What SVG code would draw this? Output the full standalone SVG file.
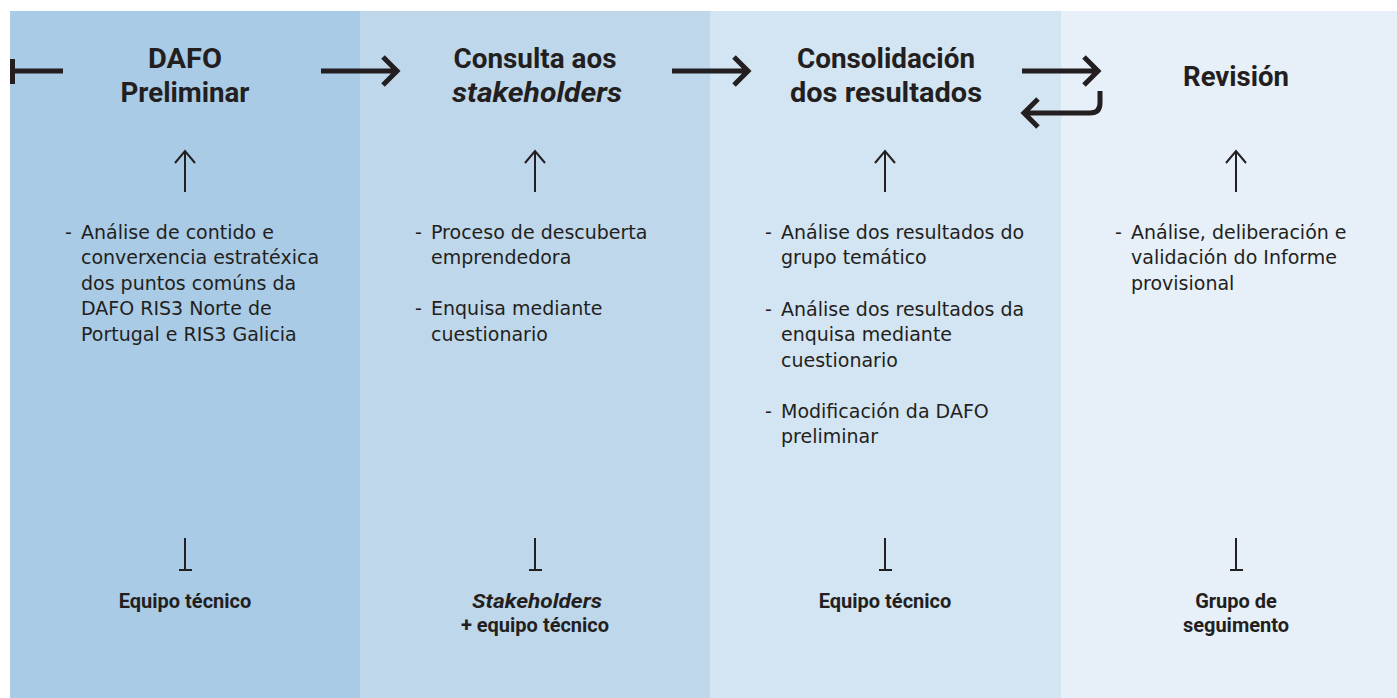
<svg xmlns="http://www.w3.org/2000/svg" width="1397" height="698" viewBox="0 0 1397 698">
<style>
.title{font-family:Roboto,"Liberation Sans",sans-serif;font-weight:700;font-size:28px;fill:#231f20;text-anchor:middle}
.body{font-family:"DejaVu Sans","Liberation Sans",sans-serif;font-size:19px;fill:#231f20}
.who{font-family:Roboto,"Liberation Sans",sans-serif;font-weight:700;font-size:20px;fill:#231f20;text-anchor:middle}
.thick{stroke:#231f20;stroke-width:5;fill:none}
.thin{stroke:#231f20;stroke-width:2;fill:none}
</style>
<rect width="1397" height="698" fill="#ffffff"/>
<g id="col1">
<rect x="10" y="11" width="350" height="687" fill="#a9cbe6"/>
<text class="title" x="185" y="68" textLength="74" lengthAdjust="spacingAndGlyphs">DAFO</text>
<text class="title" x="185" y="102" textLength="129" lengthAdjust="spacingAndGlyphs">Preliminar</text>
<text class="body" x="65" y="239">-</text>
<text class="body" x="81" y="239">Análise de contido e</text>
<text class="body" x="81" y="264">converxencia estratéxica</text>
<text class="body" x="81" y="290">dos puntos comúns da</text>
<text class="body" x="81" y="315">DAFO RIS3 Norte de</text>
<text class="body" x="81" y="341">Portugal e RIS3 Galicia</text>
<text class="who" x="185" y="608">Equipo técnico</text>
</g>
<g id="col2">
<rect x="360" y="11" width="350" height="687" fill="#bfd7eb"/>
<text class="title" x="535" y="68" textLength="163" lengthAdjust="spacingAndGlyphs">Consulta aos</text>
<text class="title" x="537" y="102" font-style="italic" textLength="170" lengthAdjust="spacingAndGlyphs">stakeholders</text>
<text class="body" x="415" y="239">-</text>
<text class="body" x="431" y="239">Proceso de descuberta</text>
<text class="body" x="431" y="264">emprendedora</text>
<text class="body" x="415" y="315">-</text>
<text class="body" x="431" y="315">Enquisa mediante</text>
<text class="body" x="431" y="341">cuestionario</text>
<text class="who" x="537" y="608" font-style="italic" font-weight="500" textLength="130" lengthAdjust="spacingAndGlyphs">Stakeholders</text>
<text class="who" x="535" y="632">+ equipo técnico</text>
</g>
<g id="col3">
<rect x="710" y="11" width="351" height="687" fill="#d3e4f2"/>
<text class="title" x="886" y="68" textLength="178" lengthAdjust="spacingAndGlyphs">Consolidación</text>
<text class="title" x="886" y="102" textLength="192" lengthAdjust="spacingAndGlyphs">dos resultados</text>
<text class="body" x="765" y="239">-</text>
<text class="body" x="781" y="239">Análise dos resultados do</text>
<text class="body" x="781" y="264">grupo temático</text>
<text class="body" x="765" y="316">-</text>
<text class="body" x="781" y="316">Análise dos resultados da</text>
<text class="body" x="781" y="341">enquisa mediante</text>
<text class="body" x="781" y="367">cuestionario</text>
<text class="body" x="765" y="418">-</text>
<text class="body" x="781" y="418">Modificación da DAFO</text>
<text class="body" x="781" y="443">preliminar</text>
<text class="who" x="885" y="608">Equipo técnico</text>
</g>
<g id="col4">
<rect x="1061" y="11" width="336" height="687" fill="#e7eff8"/>
<text class="title" x="1236" y="86" textLength="106" lengthAdjust="spacingAndGlyphs">Revisión</text>
<text class="body" x="1115" y="239">-</text>
<text class="body" x="1131" y="239">Análise, deliberación e</text>
<text class="body" x="1131" y="264">validación do Informe</text>
<text class="body" x="1131" y="290">provisional</text>
<text class="who" x="1236" y="608">Grupo de</text>
<text class="who" x="1236" y="632">seguimento</text>
</g>
<g id="connectors">
<path class="thick" d="M12.5 59V84M10 71H63"/>
<path class="thick" d="M321 71H396M383 57L397 71L383 85"/>
<path class="thick" d="M672 71H747M734 57L748 71L734 85"/>
<path class="thick" d="M1022 71H1097M1084 57L1098 71L1084 85"/>
<path class="thick" d="M1100 91V103Q1100 113 1090 113H1025M1038 99L1024 113L1038 127"/>
<path class="thin" d="M185 192V151M175 163L185 151L195 163"/>
<path class="thin" d="M535 192V151M525 163L535 151L545 163"/>
<path class="thin" d="M885 192V151M875 163L885 151L895 163"/>
<path class="thin" d="M1236 192V151M1226 163L1236 151L1246 163"/>
<path class="thin" d="M185 538V570M179 570H192"/>
<path class="thin" d="M535 538V570M529 570H542"/>
<path class="thin" d="M885 538V570M879 570H892"/>
<path class="thin" d="M1236 538V570M1230 570H1243"/>
</g>
</svg>
